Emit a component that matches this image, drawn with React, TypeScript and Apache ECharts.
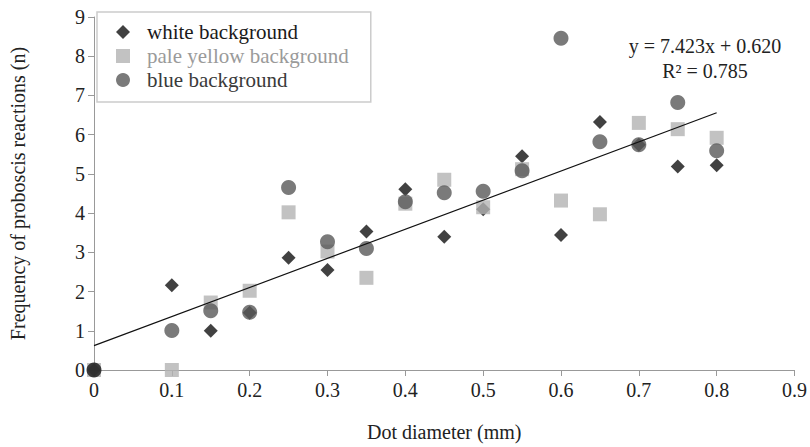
import React, { useEffect, useRef } from "react";
import * as echarts from "echarts";

const dotDiameters = [0, 0.1, 0.15, 0.2, 0.25, 0.3, 0.35, 0.4, 0.45, 0.5, 0.55, 0.6, 0.65, 0.7, 0.75, 0.8];
const whiteBg = [0, 2.16, 1.0, 1.46, 2.86, 2.55, 3.53, 4.61, 3.4, 4.1, 5.45, 3.44, 6.32, 5.74, 5.19, 5.22];
const paleYellowBg = [0, 0, 1.72, 2.02, 4.02, 3.02, 2.35, 4.24, 4.85, 4.15, 5.12, 4.32, 3.97, 6.3, 6.14, 5.92];
const blueBg = [0, 1.01, 1.51, 1.47, 4.65, 3.27, 3.1, 4.29, 4.52, 4.56, 5.08, 8.46, 5.82, 5.74, 6.82, 5.59];
const xTicks = [0, 0.1, 0.2, 0.3, 0.4, 0.5, 0.6, 0.7, 0.8, 0.9];
const slope = 7.423;
const intercept = 0.62;
const r2 = 0.785;
const trendRange = [0, 0.8];

const FONT = "'Liberation Serif', 'DejaVu Serif', serif";

export default function App() {
  const ref = useRef<HTMLDivElement>(null);
  useEffect(() => {
    if (!ref.current) return;
    const chart = echarts.init(ref.current, undefined, { renderer: "svg" });
    const pairs = (ys: number[]) => dotDiameters.map((x, i) => [x, ys[i]]);
    const trend = trendRange.map((x) => [x, slope * x + intercept]);
    chart.setOption({
      animation: false,
      backgroundColor: "#ffffff",
      grid: { left: 94, right: 13, top: 17, bottom: 74 },
      xAxis: {
        type: "value",
        min: 0,
        max: 0.9,
        interval: 0.1,
        name: "Dot diameter (mm)",
        nameLocation: "middle",
        nameGap: 52,
        nameTextStyle: { fontFamily: FONT, fontSize: 20, color: "#222" },
        axisLine: { lineStyle: { color: "#999", width: 1 } },
        axisTick: { show: true, length: 6, lineStyle: { color: "#999" } },
        axisLabel: {
          fontFamily: FONT,
          fontSize: 20,
          color: "#222",
          margin: 10,
          formatter: (v: number) => {
            const t = xTicks.find((x) => Math.abs(x - v) < 1e-9);
            return t === undefined ? "" : String(t);
          },
        },
        splitLine: { show: false },
      },
      yAxis: {
        type: "value",
        min: 0,
        max: 9,
        interval: 1,
        name: "Frequency of proboscis reactions (n)",
        nameLocation: "middle",
        nameGap: 66,
        nameTextStyle: { fontFamily: FONT, fontSize: 20, color: "#222" },
        axisLine: { show: true, lineStyle: { color: "#999", width: 1 } },
        axisTick: { show: true, length: 6, lineStyle: { color: "#999" } },
        axisLabel: { fontFamily: FONT, fontSize: 20, color: "#222", margin: 9 },
        splitLine: { show: false },
      },
      legend: {
        orient: "vertical",
        left: 97,
        top: 12,
        padding: [8, 22, 10, 19],
        itemWidth: 14,
        itemHeight: 14,
        itemGap: 0,
        borderColor: "#cccccc",
        borderWidth: 1.5,
        backgroundColor: "#ffffff",
        textStyle: { fontFamily: FONT, fontSize: 21, lineHeight: 24, padding: [0, 0, 0, 12] },
        data: [
          { name: "white background", icon: "diamond", textStyle: { color: "#1a1a1a" } },
          { name: "pale yellow background", icon: "rect", textStyle: { color: "#9a9a9a" } },
          { name: "blue background", icon: "circle", textStyle: { color: "#3a3a3a" } },
        ],
      },
      graphic: [
        {
          type: "text",
          x: 705,
          y: 33,
          style: {
            text: `y = ${slope.toFixed(3)}x + ${intercept.toFixed(3)}\nR² = ${r2.toFixed(3)}`,
            font: `20px ${FONT}`,
            fill: "#222",
            align: "center",
            lineHeight: 25,
          },
        },
      ],
      series: [
        {
          name: "white background",
          type: "scatter",
          symbol: "diamond",
          symbolSize: 14,
          itemStyle: { color: "#111111" },
          data: pairs(whiteBg),
          z: 2,
        },
        {
          name: "pale yellow background",
          type: "scatter",
          symbol: "rect",
          symbolSize: 14,
          itemStyle: { color: "#b3b3b3" },
          data: pairs(paleYellowBg),
          z: 3,
        },
        {
          name: "blue background",
          type: "scatter",
          symbol: "circle",
          symbolSize: 15,
          itemStyle: { color: "#595959" },
          data: pairs(blueBg).map((p, i) =>
            i === 0 ? { value: p, itemStyle: { color: "#161616" } } : p
          ),
          z: 4,
        },
        {
          name: "trend",
          type: "line",
          data: trend,
          showSymbol: false,
          symbol: "none",
          lineStyle: { color: "#111", width: 1.2 },
          z: 5,
          silent: true,
        },
      ],
    });
    return () => chart.dispose();
  }, []);
  return <div ref={ref} style={{ width: 810, height: 447, position: "fixed", left: 0, top: 0 }} />;
}
